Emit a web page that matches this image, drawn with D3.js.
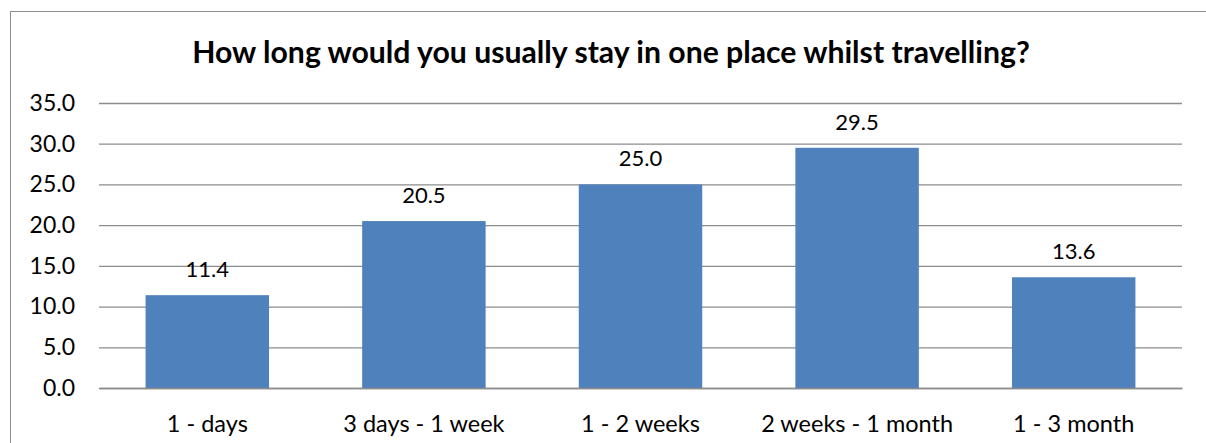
<!DOCTYPE html>
<html><head><meta charset="utf-8">
<script src="https://cdn.jsdelivr.net/npm/d3@7"></script>
<style>body{margin:0;background:#fff;}svg{display:block;}</style>
</head><body>
<svg id="c" width="1206" height="443"></svg>
<script>
const title = "How long would you usually stay in one place whilst travelling?";
const categories = ["1 - days", "3 days - 1 week", "1 - 2 weeks", "2 weeks - 1 month", "1 - 3 month"];
const values = [11.4, 20.5, 25.0, 29.5, 13.6];
const yTicks = [0, 5, 10, 15, 20, 25, 30, 35];

const svg = d3.select("#c");
const font = "Lato, Carlito, Calibri, sans-serif";
const m = {left: 99, right: 1182, top: 103, bottom: 388};

svg.append("rect").attr("x", 10.5).attr("y", 11.5).attr("width", 1220).attr("height", 460)
  .attr("fill", "none").attr("stroke", "#8c8c8c").attr("stroke-width", 1);

svg.append("text").attr("x", 611).attr("y", 63).attr("text-anchor", "middle")
  .attr("font-family", font).attr("font-weight", "bold").attr("font-size", 30.2).attr("fill", "#000")
  .text(title);

const x = d3.scaleBand().domain(categories).range([m.left, m.right]).paddingInner(0.43).paddingOuter(0.215);
const y = d3.scaleLinear().domain([0, 35]).range([m.bottom, m.top]);

const yAxis = svg.append("g").attr("transform", `translate(${m.left},0)`)
  .call(d3.axisLeft(y).tickValues(yTicks).tickFormat(d3.format(".1f")).tickSize(-(m.right - m.left)).tickPadding(24));
yAxis.select(".domain").remove();
yAxis.selectAll(".tick line").attr("stroke", "#8c8c8c").attr("stroke-width", 1.3);
yAxis.selectAll(".tick text").attr("font-family", font).attr("font-size", 23).attr("fill", "#000");

svg.append("g").selectAll("rect").data(values).join("rect")
  .attr("x", (d, i) => x(categories[i])).attr("width", x.bandwidth())
  .attr("y", d => y(d)).attr("height", d => y(0) - y(d))
  .attr("fill", "#4F81BD");

svg.append("g").selectAll("text").data(values).join("text")
  .attr("x", (d, i) => x(categories[i]) + x.bandwidth() / 2)
  .attr("y", d => y(d) - 18).attr("text-anchor", "middle")
  .attr("font-family", font).attr("font-size", 22).attr("fill", "#000")
  .text(d => d3.format(".1f")(d));

const xAxis = svg.append("g").attr("transform", `translate(0,${m.bottom})`)
  .call(d3.axisBottom(x).tickSize(0).tickPadding(0));
xAxis.select(".domain").attr("stroke", "#8c8c8c").attr("stroke-width", 1.3);
xAxis.selectAll(".tick text").attr("font-family", font).attr("font-size", 23.5).attr("fill", "#000")
  .attr("y", 44).attr("dy", null);
</script>
</body></html>
